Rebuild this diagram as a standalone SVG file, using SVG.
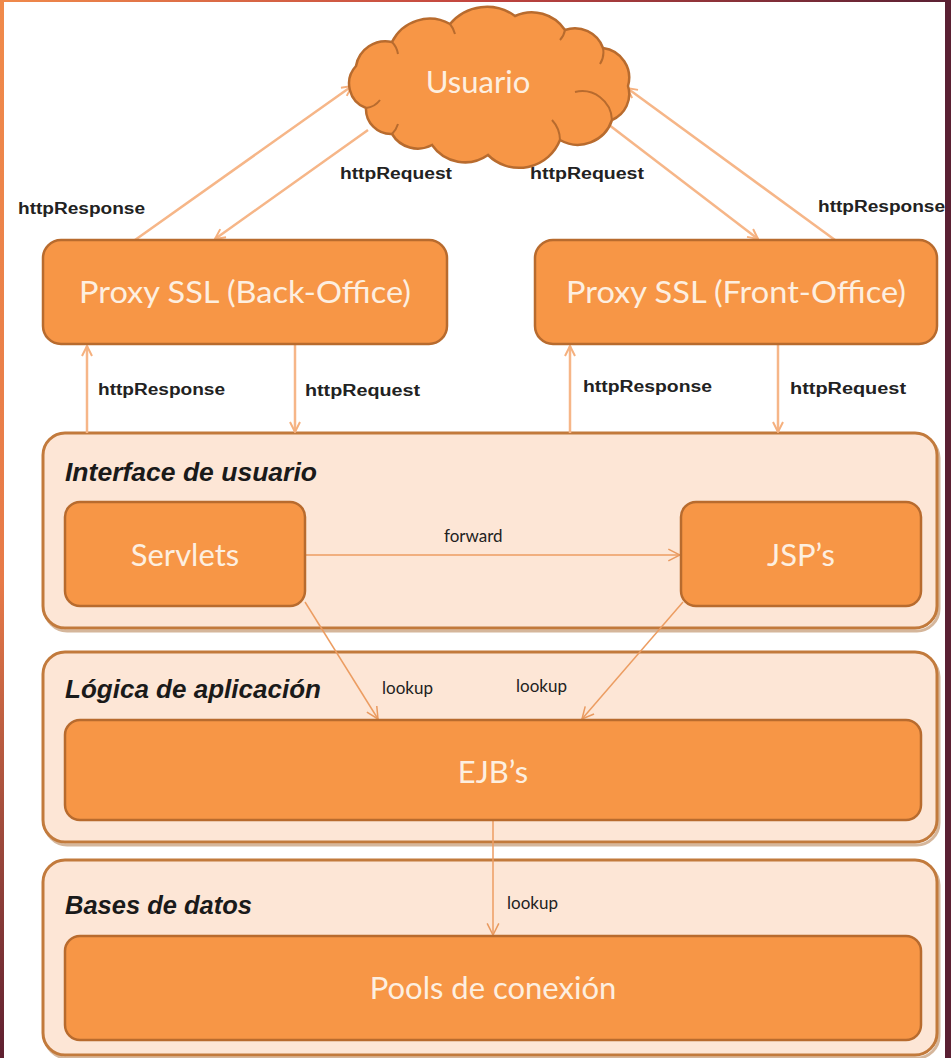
<svg xmlns="http://www.w3.org/2000/svg" width="951" height="1058" viewBox="0 0 951 1058">
<defs>
<linearGradient id="lg" x1="0" y1="0" x2="0" y2="1"><stop offset="0" stop-color="#f08a4b"/><stop offset="0.55" stop-color="#e77a48"/><stop offset="1" stop-color="#5e1f30"/></linearGradient>
<linearGradient id="tg" x1="0" y1="0" x2="1" y2="0"><stop offset="0" stop-color="#f08a4b"/><stop offset="0.5" stop-color="#c2453f"/><stop offset="1" stop-color="#5a2033"/></linearGradient>
<marker id="ah" viewBox="0 0 12 12" refX="11" refY="6" markerWidth="12" markerHeight="12" markerUnits="userSpaceOnUse" orient="auto"><path d="M1,1 L11,6 L1,11" fill="none" stroke="#f5b07e" stroke-width="2"/></marker>
<marker id="ahs" viewBox="0 0 12 12" refX="11" refY="6" markerWidth="14" markerHeight="14" markerUnits="userSpaceOnUse" orient="auto"><path d="M1,1 L11,6 L1,11" fill="none" stroke="#e99a60" stroke-width="1.3"/></marker>
<style>
.box{fill:#f79646;stroke:#b86b2e;stroke-width:2.5}
.cont{fill:#fde6d6;stroke:#c27a3c;stroke-width:3}
.shadow{fill:none;stroke:#b98659;stroke-width:3;opacity:0.6}
.bt{font-family:Lato,"Open Sans",sans-serif;font-size:31px;fill:#fdefe0;text-anchor:middle}
.title{font-family:"Liberation Sans",sans-serif;font-size:25px;font-style:italic;font-weight:bold;fill:#1a1a1a}
.lbl{font-family:"Liberation Sans",sans-serif;font-size:16px;font-weight:bold;fill:#222}
.sm{font-family:Lato,"Open Sans",sans-serif;font-size:17px;fill:#222}
.thick{stroke:#f6b688;stroke-width:2.5;fill:none;marker-end:url(#ah)}
.thin{stroke:#ec9d62;stroke-width:1.5;fill:none;marker-end:url(#ahs)}
</style>
</defs>
<rect width="951" height="1058" fill="#ffffff"/>
<rect x="0" y="0" width="4" height="1058" fill="url(#lg)"/>
<rect x="0" y="0" width="951" height="2" fill="url(#tg)"/>
<rect x="945" y="0" width="6" height="1058" fill="#5a2033"/>

<g id="containers">
<g id="interface">
<rect class="shadow" x="45" y="436" width="894" height="195" rx="22"/>
<rect class="cont" x="43" y="433" width="894" height="195" rx="22"/>
<text class="title" x="65" y="481" textLength="252" lengthAdjust="spacingAndGlyphs">Interface de usuario</text>
</g>
<g id="logica">
<rect class="shadow" x="45" y="655" width="894" height="190" rx="22"/>
<rect class="cont" x="43" y="652" width="894" height="190" rx="22"/>
<text class="title" x="65" y="698" textLength="256" lengthAdjust="spacingAndGlyphs">Lógica de aplicación</text>
</g>
<g id="bases">
<rect class="shadow" x="45" y="863" width="894" height="195" rx="22"/>
<rect class="cont" x="43" y="860" width="894" height="195" rx="22"/>
<text class="title" x="65" y="914" textLength="187" lengthAdjust="spacingAndGlyphs">Bases de datos</text>
</g>
</g>

<g id="connectors">
<line class="thick" x1="135" y1="240" x2="352" y2="86"/>
<line class="thick" x1="368" y1="130" x2="215" y2="239"/>
<line class="thick" x1="835" y1="240" x2="627" y2="88"/>
<line class="thick" x1="600" y1="118" x2="758" y2="239"/>
<line class="thick" x1="87" y1="433" x2="87" y2="346"/>
<line class="thick" x1="295" y1="345" x2="295" y2="432"/>
<line class="thick" x1="570" y1="433" x2="570" y2="346"/>
<line class="thick" x1="778" y1="345" x2="778" y2="432"/>
<line class="thin" x1="305" y1="555" x2="680" y2="555"/>
<line class="thin" x1="305" y1="602" x2="378" y2="719"/>
<line class="thin" x1="683" y1="602" x2="582" y2="719"/>
<line class="thin" x1="493" y1="821" x2="493" y2="935"/>
</g>

<g id="labels">
<text class="lbl" x="18" y="214" textLength="127" lengthAdjust="spacingAndGlyphs">httpResponse</text>
<text class="lbl" x="340" y="179" textLength="112" lengthAdjust="spacingAndGlyphs">httpRequest</text>
<text class="lbl" x="530" y="179" textLength="114" lengthAdjust="spacingAndGlyphs">httpRequest</text>
<text class="lbl" x="818" y="212" textLength="127" lengthAdjust="spacingAndGlyphs">httpResponse</text>
<text class="lbl" x="98" y="395" textLength="127" lengthAdjust="spacingAndGlyphs">httpResponse</text>
<text class="lbl" x="305" y="396" textLength="115" lengthAdjust="spacingAndGlyphs">httpRequest</text>
<text class="lbl" x="583" y="392" textLength="129" lengthAdjust="spacingAndGlyphs">httpResponse</text>
<text class="lbl" x="790" y="394" textLength="116" lengthAdjust="spacingAndGlyphs">httpRequest</text>
<text class="sm" x="444" y="542">forward</text>
<text class="sm" x="382" y="694">lookup</text>
<text class="sm" x="516" y="692">lookup</text>
<text class="sm" x="507" y="909">lookup</text>
</g>

<g id="usuario">
<path class="box" d="M 366,108 A 26 26 0 0 1 356,66 A 30 30 0 0 1 392,42 A 42 42 0 0 1 450,24 A 48 48 0 0 1 515,16 A 40 40 0 0 1 565,30 A 30 30 0 0 1 603,48 A 30 30 0 0 1 628,86 A 28 28 0 0 1 612,120 A 36 36 0 0 1 560,140 A 44 44 0 0 1 488,155 A 40 40 0 0 1 432,145 A 30 30 0 0 1 392,134 A 25 25 0 0 1 366,108 Z"/>
<path d="M 392,42 A 22 22 0 0 1 398,54 M 450,24 A 26 26 0 0 1 455,34 M 565,30 A 20 20 0 0 1 560,40 M 603,48 A 22 22 0 0 1 600,64 M 612,120 A 30 30 0 0 0 575,92 M 560,140 A 30 30 0 0 0 552,120 M 392,134 A 24 24 0 0 0 398,124 M 366,108 A 20 20 0 0 0 380,100" fill="none" stroke="#b86b2e" stroke-width="2"/>
<text class="bt" x="478" y="93">Usuario</text>
</g>
<g id="proxy-back">
<rect class="box" x="43" y="240" width="404" height="104" rx="18"/>
<text class="bt" x="245" y="303" textLength="332" lengthAdjust="spacingAndGlyphs">Proxy SSL (Back-Office)</text>
</g>
<g id="proxy-front">
<rect class="box" x="535" y="240" width="402" height="104" rx="18"/>
<text class="bt" x="736" y="303" textLength="340" lengthAdjust="spacingAndGlyphs">Proxy SSL (Front-Office)</text>
</g>
<g id="servlets">
<rect class="box" x="65" y="502" width="240" height="104" rx="15"/>
<text class="bt" x="185" y="566">Servlets</text>
</g>
<g id="jsps">
<rect class="box" x="681" y="502" width="240" height="104" rx="15"/>
<text class="bt" x="801" y="566">JSP’s</text>
</g>
<g id="ejbs">
<rect class="box" x="65" y="720" width="856" height="100" rx="15"/>
<text class="bt" x="493" y="783">EJB’s</text>
</g>
<g id="pools">
<rect class="box" x="65" y="936" width="856" height="104" rx="15"/>
<text class="bt" x="493" y="999">Pools de conexión</text>
</g>
</svg>
